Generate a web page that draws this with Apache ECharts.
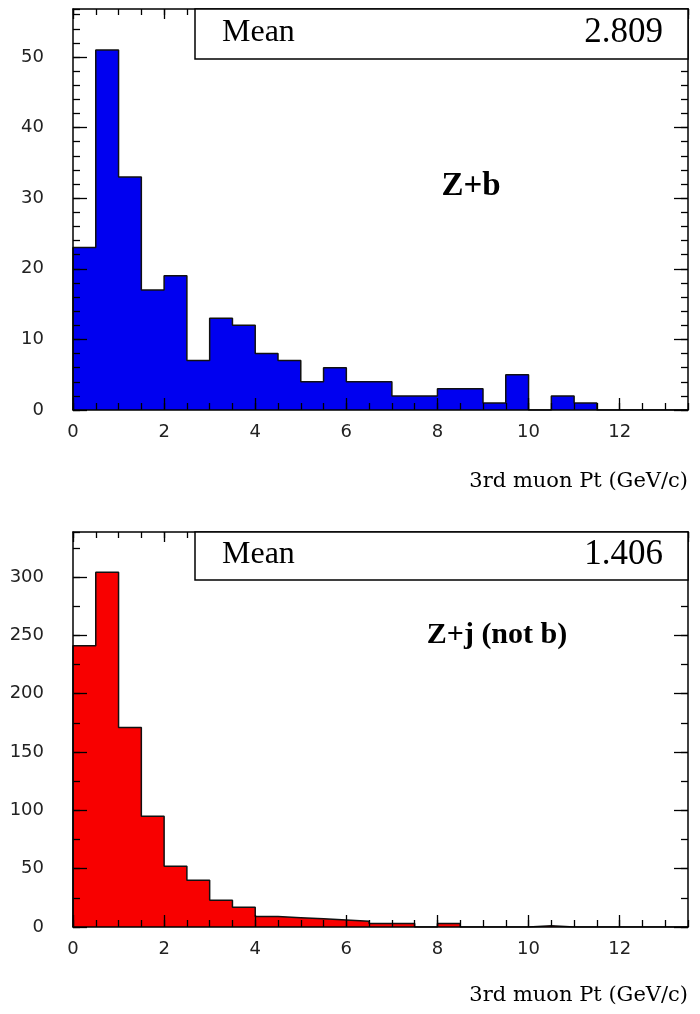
<!DOCTYPE html>
<html>
<head>
<meta charset="utf-8">
<script src="https://cdn.jsdelivr.net/npm/echarts@6/dist/echarts.min.js"></script>
<style>
  html, body { margin: 0; padding: 0; background: #fff; }
  #chart-container { width: 700px; height: 1014px; }
</style>
</head>
<body>
<div id="chart-container"></div>
<script>
// bin lower edges (GeV/c), width 0.5
const binWidth = 0.5;
const binEdges = [0, 0.5, 1, 1.5, 2, 2.5, 3, 3.5, 4, 4.5, 5, 5.5, 6, 6.5, 7, 7.5, 8, 8.5, 9, 9.5, 10, 10.5, 11, 11.5, 12, 12.5, 13];
// Z+b entries per bin
const zbCounts = [23, 51, 33, 17, 19, 7, 13, 12, 8, 7, 4, 6, 4, 4, 2, 2, 3, 3, 1, 5, 0, 2, 1, 0, 0, 0, 0];
// Z+j (not b) entries per bin
const zjCounts = [241, 304, 171, 95, 52, 40, 23, 17, 9, 8, 7, 6, 5, 3, 3, 0, 3, 0, 0, 0, 1, 0, 0, 0, 0, 0, 0];
const xMax = 13.5;
const zbYMax = 56.8;
const zjYMax = 338.5;
const zbMean = '2.809';
const zjMean = '1.406';
const xTitle = '3rd muon Pt (GeV/c)';
const zbLabel = 'Z+b';
const zjLabel = 'Z+j (not b)';

const grids = [
  { left: 73, top: 9, width: 615, height: 401 },
  { left: 73, top: 532, width: 615, height: 395 }
];

const labelFont = { color: '#222', fontFamily: 'DejaVu Sans', fontSize: 18 };

// one axis: major ticks (with line / labels) or minor ticks only
function makeAxis(gridIndex, position, min, max, interval, tickLen, withLine, withLabel, labelMargin) {
  return {
    type: 'value',
    gridIndex: gridIndex,
    position: position,
    min: min,
    max: max,
    interval: interval,
    z: 5,
    axisLine: { show: withLine, onZero: false, lineStyle: { color: '#000', width: 1.5 } },
    axisTick: { show: true, inside: true, length: tickLen, lineStyle: { color: '#000', width: 1.3 } },
    axisLabel: Object.assign({ show: withLabel, showMaxLabel: false, margin: labelMargin || 8 }, labelFont),
    splitLine: { show: false }
  };
}

function xAxesFor(g) {
  return [
    makeAxis(g, 'bottom', 0, xMax, 2, 12, true, true, 13),
    makeAxis(g, 'bottom', 0, xMax, 0.5, 7, false, false),
    makeAxis(g, 'top', 0, xMax, 2, 10, true, false),
    makeAxis(g, 'top', 0, xMax, 0.5, 6, false, false)
  ];
}

function yAxesFor(g, yMax, major, minor) {
  return [
    makeAxis(g, 'left', 0, yMax, major, 14, true, true, 29),
    makeAxis(g, 'left', 0, yMax, minor, 7, false, false),
    makeAxis(g, 'right', 0, yMax, major, 14, true, false),
    makeAxis(g, 'right', 0, yMax, minor, 7, false, false)
  ];
}

// filled step outline like a ROOT histogram
function histSeries(counts, color, axisIndex) {
  const pts = [[0, 0]].concat(counts.map((c, i) => [binEdges[i], c]));
  pts.push([binEdges[binEdges.length - 1] + binWidth, 0]);
  return {
    type: 'line',
    xAxisIndex: axisIndex,
    yAxisIndex: axisIndex,
    z: 2,
    step: 'end',
    symbol: 'none',
    silent: true,
    lineStyle: { color: '#111', width: 1.5 },
    areaStyle: { color: color, opacity: 1 },
    data: pts
  };
}

function statsBox(top, bottom, value) {
  return [
    {
      type: 'rect',
      shape: { x: 195, y: top, width: 493, height: bottom - top },
      style: { fill: '#fff', stroke: '#000', lineWidth: 1.5 },
      z: 10
    },
    {
      type: 'text', x: 222, y: (top + bottom) / 2 - 1, z: 11,
      style: { text: 'Mean', font: '32px "Liberation Serif"', fill: '#000', verticalAlign: 'middle' }
    },
    {
      type: 'text', x: 663, y: (top + bottom) / 2 - 1, z: 11,
      style: { text: value, font: '35px "Liberation Serif"', fill: '#000', align: 'right', verticalAlign: 'middle' }
    }
  ];
}

var dom = document.getElementById('chart-container');
var myChart = echarts.init(dom, null, { renderer: 'canvas' });

var option = {
  animation: false,
  backgroundColor: '#fff',
  grid: grids,
  xAxis: xAxesFor(0).concat(xAxesFor(1)),
  yAxis: yAxesFor(0, zbYMax, 10, 2).concat(yAxesFor(1, zjYMax, 50, 25)),
  series: [
    histSeries(zbCounts, '#0000f0', 0),
    histSeries(zjCounts, '#f80000', 4)
  ],
  graphic: [].concat(
    statsBox(9, 59, zbMean),
    statsBox(532, 580, zjMean),
    [
      {
        type: 'text', x: 471, y: 186, z: 11,
        style: { text: zbLabel, font: 'bold 33px "Liberation Serif"', fill: '#000', align: 'center', verticalAlign: 'middle' }
      },
      {
        type: 'text', x: 497, y: 635, z: 11,
        style: { text: zjLabel, font: 'bold 30px "Liberation Serif"', fill: '#000', align: 'center', verticalAlign: 'middle' }
      },
      {
        type: 'text', x: 688, y: 482, z: 11,
        style: { text: xTitle, font: '21px "DejaVu Serif"', fill: '#000', align: 'right', verticalAlign: 'middle' }
      },
      {
        type: 'text', x: 688, y: 996, z: 11,
        style: { text: xTitle, font: '21px "DejaVu Serif"', fill: '#000', align: 'right', verticalAlign: 'middle' }
      }
    ]
  )
};

myChart.setOption(option);
</script>
</body>
</html>
